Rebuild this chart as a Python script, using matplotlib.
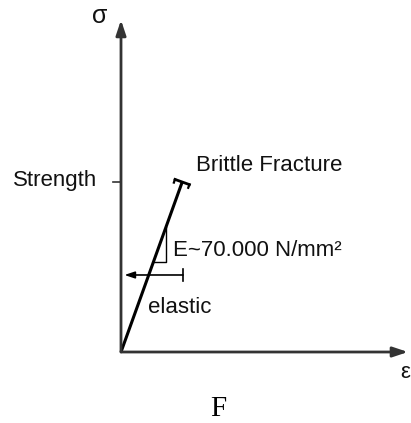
import numpy as np
import matplotlib.pyplot as plt

# stress-strain values (strength normalised to 1)
strain = [0.0, 0.36]
stress = [0.0, 1.0]
strength = 1.0
elastic_y = 0.453
triangle_x = 0.265
triangle_y = 0.53
x_axis_end = 1.688
y_axis_end = 1.953

fig = plt.figure(figsize=(4.11, 4.23), dpi=100)
ax = fig.add_axes([0, 0, 1, 1])
ax.set_xlim(-121 / 170, 290 / 170)
ax.set_ylim(-71 / 170, 352 / 170)
ax.axis('off')

axis_col = '#333333'
# axes with arrow heads
ax.annotate('', xy=(0, y_axis_end), xytext=(0, 0),
            arrowprops=dict(arrowstyle='-|>,head_length=0.9,head_width=0.3', color=axis_col, lw=2.0,
                            shrinkA=0, shrinkB=0))
ax.annotate('', xy=(x_axis_end, 0), xytext=(0, 0),
            arrowprops=dict(arrowstyle='-|>,head_length=0.9,head_width=0.3', color=axis_col, lw=2.0,
                            shrinkA=0, shrinkB=0))

# strength tick
ax.plot([-0.05, 0], [strength, strength], color=axis_col, lw=1.2)

# elastic line up to brittle fracture
ax.plot(strain, stress, color='black', lw=2.2, solid_capstyle='butt')

# fracture cap perpendicular to the line
d = np.array([strain[1] - strain[0], stress[1] - stress[0]])
d = d / np.hypot(*d)
p = np.array([-d[1], d[0]])
end = np.array([strain[1], stress[1]])
c1 = end + p * 0.045
c2 = end - p * 0.045
ax.plot([c1[0], c2[0]], [c1[1], c2[1]], color='black', lw=2.0)
ax.plot([c1[0], c1[0] - d[0] * 0.02], [c1[1], c1[1] - d[1] * 0.02], color='black', lw=1.6)
ax.plot([c2[0], c2[0] - d[0] * 0.02], [c2[1], c2[1] - d[1] * 0.02], color='black', lw=1.6)

# slope triangle
slope = stress[1] / strain[1]
ax.plot([triangle_y / slope, triangle_x, triangle_x],
        [triangle_y, triangle_y, triangle_x * slope], color='black', lw=1.0)

# elastic range arrow
ax.annotate('', xy=(0.02, elastic_y), xytext=(strain[1] + 0.005, elastic_y),
            arrowprops=dict(arrowstyle='-|>,head_length=0.6,head_width=0.2', color='black', lw=1.2,
                            shrinkA=0, shrinkB=0))
ax.plot([strain[1] + 0.005] * 2, [elastic_y - 0.035, elastic_y + 0.035], color='black', lw=1.2)

sans = 'Liberation Sans'
fs = 16
ax.text(0.441, 1.1, 'Brittle Fracture', fontsize=fs, family=sans, ha='left', va='center', color='#111111')
ax.text(0.306, 0.6, 'E~70.000 N/mm²', fontsize=fs, family=sans, ha='left', va='center', color='#111111')
ax.text(0.159, 0.259, 'elastic', fontsize=fs, family=sans, ha='left', va='center', color='#111111')
ax.text(-0.141, 1.01, 'Strength', fontsize=fs, family=sans, ha='right', va='center', color='#111111')
ax.text(-0.124, 1.975, 'σ', fontsize=18, family=sans, ha='center', va='center', color='#111111')
ax.text(1.70, -0.12, 'ε', fontsize=16, family=sans, ha='right', va='center', color='#111111')
ax.text(0.57, -0.335, 'F', fontsize=21, family='Liberation Serif', ha='center', va='center', color='black')

fig.savefig('out.png', dpi=100, facecolor='white')
